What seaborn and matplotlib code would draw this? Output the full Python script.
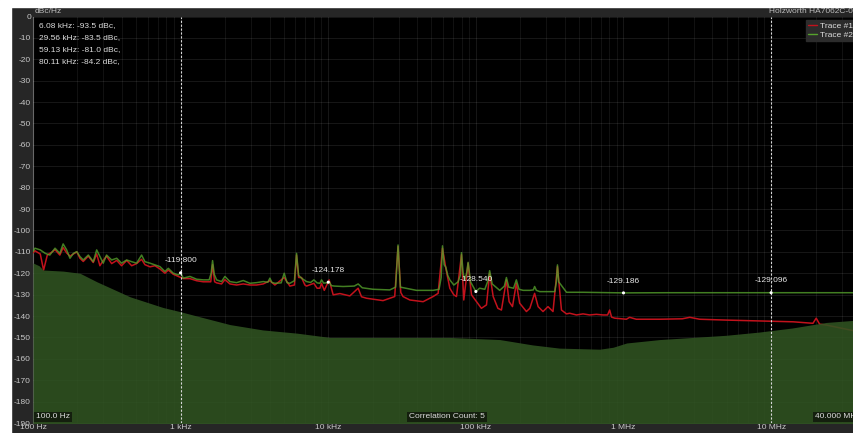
import numpy as np
import pandas as pd
import matplotlib
matplotlib.use("Agg")
import matplotlib.pyplot as plt
from matplotlib.patches import Rectangle
from matplotlib.lines import Line2D
import seaborn as sns

# ---------------- data ----------------
trace2_freq = [100, 103, 112, 121, 130, 141, 152, 160, 169, 178, 188, 198, 208, 219, 237, 256, 270, 284,
               299, 315, 341, 369, 398, 431, 466, 503, 544, 573, 620, 670, 724, 783, 825, 892, 964, 1000,
               1042, 1156, 1283, 1423, 1560, 1610, 1646, 1690, 1752, 1894, 1995, 2157, 2393, 2656, 2946,
               3268, 3626, 3900, 4023, 4150, 4350, 4800, 5030, 5250, 5496, 5900, 6098, 6300, 6592, 7127,
               7600, 7991, 8400, 8774, 9008, 9300, 9730, 10000, 10140, 10500, 11000, 12620, 15000, 15940,
               17000, 20100, 26100, 28600, 29700, 30800, 39600, 51300, 56300, 58200, 59400, 61000, 62600,
               64500, 66600, 70900, 75800, 78500, 79900, 82000, 84100, 86500, 88600, 92000, 95800, 100000,
               106000, 115000, 120000, 124000, 129000, 145000, 156000, 161000, 167000, 180000, 188000,
               196000, 209000, 232000, 245000, 250000, 257000, 271000, 308000, 342000, 351000, 357000,
               364000, 411000, 532000, 690000, 1e6, 2e6, 5e6, 1e7, 2e7, 4e7]
trace2_level = [-109.9, -108.3, -109.1, -110.7, -111.5, -108.3, -110.7, -106.3, -109.1, -113.0, -110.7,
                -109.9, -112.2, -113.8, -111.5, -114.6, -109.1, -112.2, -115.3, -111.5, -113.8, -113.0,
                -115.3, -113.8, -114.6, -115.3, -111.5, -114.6, -115.3, -116.1, -116.9, -119.2, -117.7,
                -120.0, -120.8, -119.8, -122.3, -121.5, -122.8, -123.1, -123.1, -120.0, -114.1, -120.5,
                -123.1, -123.9, -121.5, -123.9, -124.4, -123.4, -124.7, -124.4, -123.9, -124.2, -122.3,
                -124.3, -124.7, -124.5, -120.0, -124.4, -124.7, -123.5, -110.7, -121.0, -122.3, -123.9,
                -124.3, -123.1, -124.5, -124.7, -123.1, -124.6, -124.5, -124.178, -123.9, -125.8, -126.0,
                -126.2, -126.0, -125.0, -126.8, -127.5, -127.8, -126.5, -106.8, -126.5, -128.0, -128.0,
                -127.5, -122.0, -107.2, -116.0, -117.2, -121.0, -123.1, -125.5, -124.0, -121.0, -110.4,
                -120.0, -123.1, -120.0, -114.9, -124.0, -126.2, -128.54, -127.0, -127.5, -124.0, -118.8,
                -125.0, -128.0, -126.0, -122.0, -126.5, -127.0, -123.1, -127.5, -128.0, -128.0, -127.8,
                -126.2, -128.0, -128.6, -128.6, -128.6, -124.0, -116.1, -124.0, -128.9, -128.9, -129.0,
                -129.186, -129.1, -129.1, -129.096, -129.1, -129.1]

trace1_freq = [100, 103, 112, 118, 125, 135, 141, 152, 160, 169, 178, 188, 198, 208, 219, 237, 256, 270,
               284, 299, 315, 341, 369, 398, 431, 466, 503, 544, 573, 620, 670, 724, 783, 825, 892, 964,
               1042, 1156, 1283, 1423, 1600, 1646, 1700, 1752, 1894, 1995, 2157, 2393, 2656, 2946, 3268,
               3626, 4023, 4350, 5030, 5496, 5900, 6098, 6300, 6592, 6943, 7127, 7991, 8400, 8774, 9008,
               9400, 10140, 10800, 12000, 14000, 15940, 16800, 18200, 23500, 28200, 29700, 31000, 32100,
               35700, 43900, 51300, 55500, 59400, 62600, 66600, 70900, 73900, 79900, 82800, 88600, 93400,
               101000, 109000, 118000, 124000, 131000, 141000, 149000, 161000, 168000, 177000, 188000,
               198000, 220000, 232000, 250000, 264000, 285000, 308000, 333000, 357000, 380000, 411000,
               432000, 480000, 532000, 590000, 655000, 727000, 780000, 806000, 830000, 872000, 1.046e6,
               1.10e6, 1.22e6, 1.76e6, 2.5e6, 2.81e6, 3.28e6, 4.97e6, 8.36e6, 1.41e7, 1.92e7, 2.02e7,
               2.13e7, 2.36e7, 4e7]
trace1_level = [-110.5, -109.5, -111.0, -118.5, -111.5, -110.0, -109.0, -111.5, -108.0, -110.5, -112.0,
                -111.0, -110.0, -113.0, -114.5, -112.0, -115.0, -111.0, -116.5, -114.0, -112.0, -115.5,
                -114.0, -116.5, -114.0, -116.5, -115.5, -113.5, -116.0, -117.0, -116.5, -118.0, -120.0,
                -118.5, -120.5, -121.5, -122.5, -122.5, -123.5, -124.0, -124.0, -116.0, -124.0, -124.5,
                -125.0, -123.0, -125.0, -125.5, -125.0, -125.5, -125.5, -125.0, -123.5, -125.5, -122.0,
                -126.0, -125.5, -111.5, -122.0, -122.0, -125.5, -126.0, -124.7, -127.0, -127.0, -124.7,
                -128.0, -123.1, -130.1, -129.5, -130.6, -127.0, -131.0, -131.7, -132.8, -130.9, -107.5,
                -129.0, -130.9, -132.5, -133.3, -130.9, -129.4, -108.3, -117.7, -127.0, -130.1, -130.9,
                -111.3, -132.5, -115.3, -130.1, -133.3, -136.4, -134.8, -120.0, -130.9, -136.4, -137.2,
                -123.1, -133.3, -135.6, -124.7, -134.0, -137.9, -136.4, -129.4, -135.6, -137.9, -135.6,
                -137.9, -116.9, -137.2, -139.0, -138.7, -139.5, -139.0, -139.5, -139.2, -139.5, -139.5,
                -137.2, -140.5, -141.0, -141.5, -140.6, -141.5, -141.5, -141.3, -140.6, -141.5, -141.9,
                -142.3, -142.7, -143.4, -141.0, -143.8, -144.2, -147.5]

floor_freq = [100, 110, 117, 160, 208, 271, 454, 759, 1000, 1290, 2160, 3600, 6130, 10250, 30000, 66000,
              145000, 242000, 368000, 690000, 850000, 1.05e6, 1.76e6, 2.96e6, 4.96e6, 8.3e6, 1.39e7,
              2.36e7, 3.67e7, 4e7]
floor_level = [-115.2, -116.5, -118.5, -119.0, -120.0, -124.0, -131.0, -136.0, -138.0, -140.0, -144.0,
               -146.5, -148.0, -150.0, -150.0, -150.0, -151.0, -153.5, -155.0, -155.5, -154.6, -152.6,
               -151.0, -150.0, -149.0, -147.5, -145.6, -143.0, -142.0, -141.5]

marker_freq = [1e3, 1e4, 1e5, 1e6, 1e7]
marker_level = [-119.800, -124.178, -128.540, -129.186, -129.096]
marker_text = ["-119.800", "-124.178", "-128.540", "-129.186", "-129.096"]
marker_lines = [1e3, 1e7]

spur_text = ["6.08 kHz: -93.5 dBc,", "29.56 kHz: -83.5 dBc,", "59.13 kHz: -81.0 dBc,", "80.11 kHz: -84.2 dBc,"]

x_ticks = [1e2, 1e3, 1e4, 1e5, 1e6, 1e7]
x_labels = ["100 Hz", "1 kHz", "10 kHz", "100 kHz", "1 MHz", "10 MHz"]
y_ticks = list(range(0, -191, -10))
y_labels = [str(v) for v in y_ticks]
trace_names = ["Trace #1", "Trace #2"]

# ---------------- style ----------------
sns.set_theme(style="dark")
plt.rcParams["font.family"] = ["Liberation Sans", "DejaVu Sans"]
plt.rcParams["axes.unicode_minus"] = False

W, H = 854, 433
fig = plt.figure(figsize=(W / 100, H / 100), dpi=100, facecolor="#262626")
ax = fig.add_axes([33 / W, 10 / H, 827 / W, 406.5 / H])
ax.set_facecolor("#000000")

red = "#c2121c"
green = "#56a22c"

df1 = pd.DataFrame({"freq": trace1_freq, "level": trace1_level, "trace": trace_names[0]})
df2 = pd.DataFrame({"freq": trace2_freq, "level": trace2_level, "trace": trace_names[1]})

sns.lineplot(data=df1, x="freq", y="level", ax=ax, color=red, lw=1.1, estimator=None, legend=False, zorder=3)
sns.lineplot(data=df2, x="freq", y="level", ax=ax, color=green, lw=1.1, alpha=0.78, estimator=None,
             legend=False, zorder=4)

ax.fill_between(floor_freq, floor_level, -200, color="#305422", alpha=0.88, lw=0, zorder=5)

ax.set_xscale("log")
ax.set_xlim(100, 4e7)
ax.set_ylim(-190, 0)

ax.set_xticks(x_ticks)
ax.set_xticklabels(x_labels)
ax.set_yticks(y_ticks)
ax.set_yticklabels(y_labels)
ax.tick_params(axis="both", which="both", length=0, labelsize=6, colors="#c8c8c8")
ax.tick_params(axis="x", pad=0.5)
ax.tick_params(axis="y", pad=1.5)
ax.set_xlabel("")
ax.set_ylabel("")

ax.grid(which="major", color="white", alpha=0.09, lw=0.8, ls="-", zorder=6)
ax.grid(which="minor", axis="x", color="white", alpha=0.07, lw=0.8, ls="-", zorder=6)
ax.set_axisbelow(False)
for s in ax.spines.values():
    s.set_visible(False)
ax.spines["left"].set_visible(True)
ax.spines["left"].set_color("#5a5a5a")
ax.spines["left"].set_linewidth(0.8)

for xv in marker_lines:
    ax.axvline(xv, color="#d8d8d8", lw=0.8, ls=(0, (2, 1.5)), zorder=7)

sns.scatterplot(x=marker_freq, y=marker_level, ax=ax, color="white", s=5, edgecolor="none", zorder=8)
for fx, fy, t in zip(marker_freq, marker_level, marker_text):
    ax.annotate(t, (fx, fy), xytext=(0, 6), textcoords="offset points", ha="center", va="bottom",
                fontsize=6, color="#e8e8e8", zorder=9)

for i, t in enumerate(spur_text):
    fig.text(39 / W, 1 - (26 + 12 * i) / H, t, fontsize=6, color="#dcdcdc", ha="left", va="center")

# header texts
fig.text(35 / W, 1 - 11.5 / H, "dBc/Hz", fontsize=6, color="#bdbdbd", ha="left", va="center")
fig.text(769 / W, 1 - 11.5 / H, "Holzworth HA7062C-04", fontsize=6, color="#bdbdbd", ha="left", va="center")

# bottom boxed labels
box = dict(facecolor="#141f0e", edgecolor="none", pad=1.2)
fig.text(36 / W, 1 - 417 / H, "100.0 Hz", fontsize=6, color="#dcdcdc", ha="left", va="center", bbox=box)
fig.text(447 / W, 1 - 417 / H, "Correlation Count: 5", fontsize=6, color="#dcdcdc", ha="center",
         va="center", bbox=box)
fig.text(815 / W, 1 - 417 / H, "40.000 MHz", fontsize=6, color="#dcdcdc", ha="left", va="center", bbox=box)

# legend
handles = [Line2D([], [], color=red, lw=1.0), Line2D([], [], color=green, lw=1.0)]
leg = fig.legend(handles, trace_names, loc="upper left", bbox_to_anchor=(806 / W, 1 - 20 / H),
                 fontsize=6, frameon=True, facecolor="#2c2c2c", edgecolor="#2c2c2c", labelcolor="#dddddd",
                 handlelength=1.1, borderpad=0.25, labelspacing=0.15, handletextpad=0.3, framealpha=1.0,
                 fancybox=False, borderaxespad=0)

# white margins
fig.patches.append(Rectangle((0, 0), 11 / W, 1, transform=fig.transFigure, color="white", zorder=10))
fig.patches.append(Rectangle((0, 1 - 7 / H), 1, 7 / H, transform=fig.transFigure, color="white", zorder=10))

fig.savefig("out.png", dpi=100, facecolor=fig.get_facecolor())
